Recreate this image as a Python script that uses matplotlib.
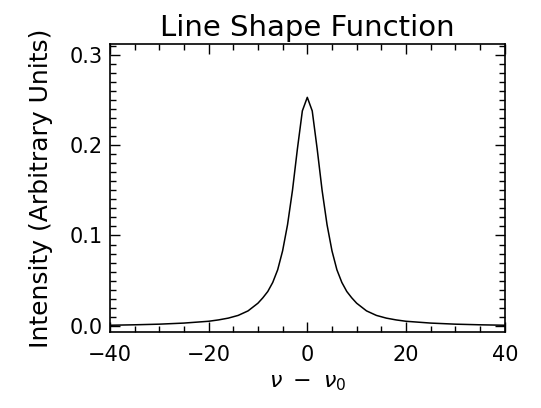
import numpy as np
import matplotlib
matplotlib.use('Agg')
import matplotlib.pyplot as plt
from matplotlib.ticker import MultipleLocator

# values
nu = [-40, -35, -30, -25, -20, -18, -16, -14, -12, -10, -9, -8, -7, -6, -5, -4, -3, -2, -1, 0,
      1, 2, 3, 4, 5, 6, 7, 8, 9, 10, 12, 14, 16, 18, 20, 25, 30, 35, 40]
intensity = [0.0006, 0.0011, 0.0018, 0.003, 0.005, 0.0065, 0.0085, 0.0115, 0.0165, 0.025, 0.031, 0.038, 0.048, 0.062, 0.083, 0.112, 0.150, 0.196, 0.238, 0.253,
             0.238, 0.196, 0.150, 0.112, 0.083, 0.062, 0.048, 0.038, 0.031, 0.025, 0.0165, 0.0115, 0.0085, 0.0065, 0.005, 0.003, 0.0018, 0.0011, 0.0006]
xticks = [-40, -20, 0, 20, 40]
yticks = [0.0, 0.1, 0.2, 0.3]

plt.rcParams['font.family'] = 'DejaVu Sans'
plt.rcParams['mathtext.fontset'] = 'dejavusans'

fig = plt.figure(figsize=(5.41, 4.08), dpi=100)
ax = fig.add_axes([0.203, 0.186, 0.730, 0.706])
ax.plot(nu, intensity, color='black', lw=1.1)

ax.set_xlim(-40, 40)
ax.set_ylim(-0.007, 0.312)
ax.set_xticks(xticks)
ax.set_yticks(yticks)
ax.set_xticklabels([str(t).replace('-', '\u2212') for t in xticks])
ax.set_yticklabels(['%.1f' % t for t in yticks])
ax.xaxis.set_minor_locator(MultipleLocator(5))
ax.yaxis.set_minor_locator(MultipleLocator(0.01))
ax.tick_params(which='both', direction='in', top=True, right=True, labelsize=15, width=1)
ax.tick_params(axis='x', which='major', length=7, pad=9)
ax.tick_params(axis='y', which='major', length=7, pad=5)
ax.tick_params(which='minor', length=4)
for s in ax.spines.values():
    s.set_linewidth(1.2)

ax.set_title('Line Shape Function', fontsize=21, pad=6)
ax.set_ylabel('Intensity (Arbitrary Units)', fontsize=18, labelpad=12)
ax.set_xlabel(r'$\nu\ -\ \nu_0$', fontsize=16, labelpad=6)

fig.savefig('out.png', dpi=100)
